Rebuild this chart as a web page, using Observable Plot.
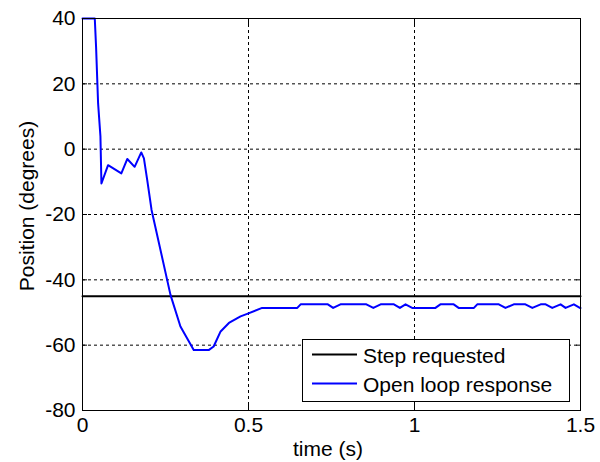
<!DOCTYPE html>
<html><head><meta charset="utf-8">
<script src="https://cdn.jsdelivr.net/npm/d3@7"></script>
<script src="https://cdn.jsdelivr.net/npm/@observablehq/plot@0.6"></script>
<style>html,body{margin:0;padding:0;background:#fff;} svg{display:block}</style>
</head><body><div id="chart"></div>
<script>
const responseTime = [0, 0.037, 0.041, 0.047, 0.054, 0.057, 0.077, 0.117, 0.135, 0.157, 0.177, 0.185, 0.195, 0.208, 0.265, 0.295, 0.335, 0.38, 0.395, 0.416, 0.441, 0.476, 0.496, 0.541, 0.647, 0.657, 0.739, 0.755, 0.777, 0.855, 0.876, 0.898, 0.938, 0.956, 0.973, 0.993, 1.063, 1.078, 1.118, 1.133, 1.179, 1.189, 1.254, 1.274, 1.299, 1.334, 1.355, 1.38, 1.395, 1.415, 1.44, 1.455, 1.48, 1.498, 1.5];
const responsePosition = [40, 40, 31, 14, 4, -10.5, -4.9, -7.4, -3.0, -5.4, -1.0, -2.8, -9.5, -18.6, -44.6, -54.3, -61.5, -61.5, -60.4, -55.8, -53.2, -51.2, -50.4, -48.6, -48.6, -47.5, -47.5, -48.6, -47.5, -47.5, -48.6, -47.5, -47.5, -48.6, -47.5, -48.6, -48.6, -47.5, -47.5, -48.6, -48.6, -47.5, -47.5, -48.6, -47.5, -47.5, -48.6, -47.5, -47.5, -48.6, -47.5, -48.6, -47.5, -48.6, -48.6];
const stepTime = [0, 1.5];
const stepPosition = [-45, -45];
const xTicks = [0, 0.5, 1, 1.5];
const yTicks = [-80, -60, -40, -20, 0, 20, 40];
const seriesNames = ["Step requested", "Open loop response"];
const seriesColors = ["#000000", "#0000ff"];
const xLabel = "time (s)";
const yLabel = "Position (degrees)";

const response = responseTime.map((t, i) => ({t, v: responsePosition[i]}));
const step = stepTime.map((t, i) => ({t, v: stepPosition[i]}));

const W = 600, H = 462, mL = 82, mR = 20, mT = 18, mB = 52;
const font = "'Liberation Sans', Arial, Helvetica, sans-serif";
const fmt = d => String(d);

const svg = Plot.plot({
  width: W, height: H,
  marginLeft: mL, marginRight: mR, marginTop: mT, marginBottom: mB,
  style: {fontFamily: font, fontSize: "21px", background: "#fff", color: "#000", overflow: "visible"},
  x: {domain: [0, 1.5], label: null},
  y: {domain: [-80, 40], label: null},
  marks: [
    Plot.gridX(xTicks, {stroke: "#000", strokeOpacity: 1, strokeDasharray: "3,3"}),
    Plot.gridY(yTicks, {stroke: "#000", strokeOpacity: 1, strokeDasharray: "3,3"}),
    Plot.line(step, {x: "t", y: "v", stroke: seriesColors[0], strokeWidth: 2}),
    Plot.line(response, {x: "t", y: "v", stroke: seriesColors[1], strokeWidth: 2}),
    Plot.axisX(xTicks, {anchor: "bottom", tickSize: 0, tickPadding: 7, tickFormat: fmt, label: null}),
    Plot.axisY(yTicks, {anchor: "left", tickSize: 0, tickPadding: 7, tickFormat: fmt, label: null}),
    Plot.axisX(xTicks, {anchor: "bottom", tickSize: -5, fill: "none", label: null}),
    Plot.axisX(xTicks, {anchor: "top", tickSize: -5, fill: "none", label: null}),
    Plot.axisY(yTicks, {anchor: "left", tickSize: -5, fill: "none", label: null}),
    Plot.axisY(yTicks, {anchor: "right", tickSize: -5, fill: "none", label: null}),
    Plot.frame({stroke: "#000"})
  ]
});

const s = d3.select(svg);
// axis titles
s.append("text").attr("x", 328).attr("y", 456).attr("text-anchor", "middle")
  .attr("font-family", font).attr("font-size", 21).attr("fill", "#000").text(xLabel);
s.append("text").attr("transform", "translate(34,206) rotate(-90)").attr("text-anchor", "middle")
  .attr("font-family", font).attr("font-size", 21).attr("fill", "#000").text(yLabel);

// legend
const lg = s.append("g");
lg.append("rect").attr("x", 302.5).attr("y", 339.5).attr("width", 267).attr("height", 62)
  .attr("fill", "#fff").attr("stroke", "#000").attr("stroke-width", 1);
seriesNames.forEach((name, i) => {
  const yy = 354.5 + i * 29;
  lg.append("line").attr("x1", 312).attr("x2", 357).attr("y1", yy).attr("y2", yy)
    .attr("stroke", seriesColors[i]).attr("stroke-width", 2);
  lg.append("text").attr("x", 363).attr("y", yy + 8.5).attr("text-anchor", "start")
    .attr("font-family", font).attr("font-size", 21).attr("fill", "#000").text(name);
});

document.getElementById("chart").appendChild(svg);
</script>
</body></html>
